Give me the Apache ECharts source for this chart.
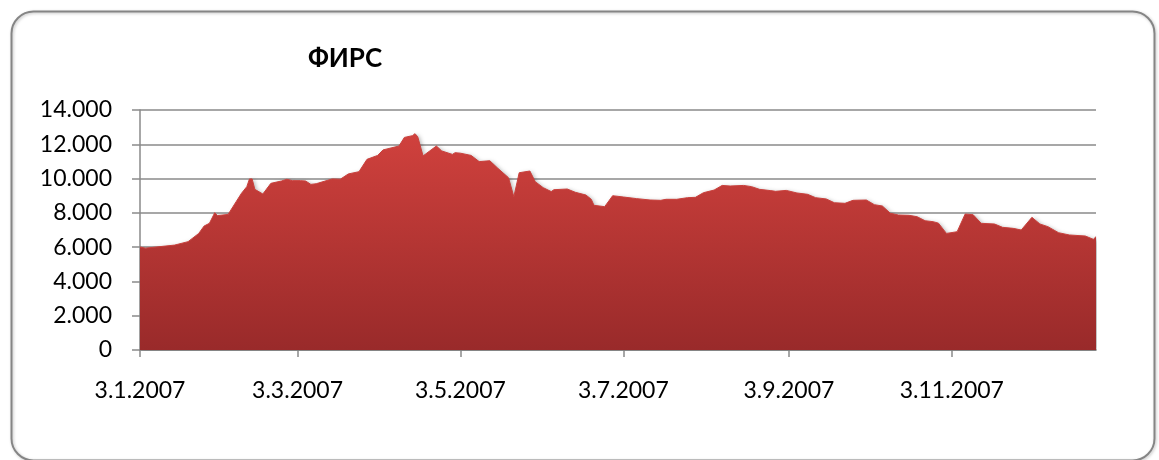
<!DOCTYPE html>
<html>
<head>
<meta charset="utf-8">
<title>ФИРС</title>
<script src="https://cdn.jsdelivr.net/npm/echarts@6/dist/echarts.min.js"></script>
<style>
  html, body { margin: 0; padding: 0; background: #fff; }
  #chart { width: 1159px; height: 460px; }
</style>
</head>
<body>
<div id="chart"></div>
<script>
// index values (date, value)
var dates = [
  '2007-01-03','2007-01-05','2007-01-16','2007-01-21','2007-01-25','2007-01-27','2007-01-29','2007-01-31',
  '2007-02-01','2007-02-05','2007-02-08','2007-02-10','2007-02-12','2007-02-13','2007-02-14','2007-02-15',
  '2007-02-18','2007-02-21','2007-02-25','2007-02-27','2007-03-01','2007-03-04','2007-03-06','2007-03-08',
  '2007-03-10','2007-03-13','2007-03-16','2007-03-19','2007-03-22','2007-03-26','2007-03-29','2007-04-02',
  '2007-04-04','2007-04-10','2007-04-12','2007-04-15','2007-04-16','2007-04-17','2007-04-19','2007-04-22',
  '2007-04-24','2007-04-26','2007-04-30','2007-05-01','2007-05-03','2007-05-07','2007-05-10','2007-05-14',
  '2007-05-17','2007-05-21','2007-05-23','2007-05-25','2007-05-29','2007-05-31','2007-06-03','2007-06-06',
  '2007-06-07','2007-06-12','2007-06-15','2007-06-19','2007-06-21','2007-06-22','2007-06-26','2007-06-29',
  '2007-07-03','2007-07-04','2007-07-08','2007-07-13','2007-07-17','2007-07-19','2007-07-23','2007-07-27',
  '2007-07-30','2007-08-02','2007-08-06','2007-08-09','2007-08-12','2007-08-17','2007-08-20','2007-08-23',
  '2007-08-27','2007-08-29','2007-09-02','2007-09-06','2007-09-10','2007-09-13','2007-09-17','2007-09-20',
  '2007-09-24','2007-09-27','2007-10-02','2007-10-05','2007-10-08','2007-10-11','2007-10-14','2007-10-18',
  '2007-10-21','2007-10-24','2007-10-27','2007-10-29','2007-11-01','2007-11-05','2007-11-08','2007-11-11',
  '2007-11-14','2007-11-19','2007-11-22','2007-11-26','2007-11-29','2007-12-03','2007-12-06','2007-12-09',
  '2007-12-13','2007-12-17','2007-12-23','2007-12-26','2007-12-27'
];
var values = [
  6010, 5940, 6120, 6320, 6800, 7230, 7390, 8010,
  7840, 7910, 8650, 9140, 9530, 9980, 9980, 9370,
  9100, 9720, 9860, 9960, 9880, 9880, 9860, 9660,
  9700, 9840, 9980, 9960, 10270, 10400, 11120, 11350,
  11670, 11900, 12400, 12500, 12620, 12440, 11320, 11670,
  11900, 11610, 11410, 11510, 11480, 11350, 10990, 11040,
  10600, 10050, 8940, 10340, 10440, 9820, 9470, 9240,
  9350, 9390, 9200, 9040, 8790, 8440, 8360, 9000,
  8925, 8905, 8830, 8750, 8730, 8790, 8790, 8885,
  8905, 9175, 9330, 9600, 9565, 9600, 9530, 9370,
  9300, 9255, 9310, 9160, 9080, 8885, 8810, 8590,
  8555, 8730, 8750, 8475, 8400, 7975, 7875, 7855,
  7775, 7540, 7485, 7400, 6800, 6900, 7930, 7890,
  7390, 7350, 7155, 7095, 7000, 7740, 7350, 7195,
  6840, 6710, 6650, 6455, 6610
];
var tickDates = ['2007-01-03','2007-03-03','2007-05-03','2007-07-03','2007-09-03','2007-11-03'];
var yTicks = [0, 2000, 4000, 6000, 8000, 10000, 12000, 14000];

function ts(s) {
  var p = s.split('-');
  return new Date(+p[0], +p[1] - 1, +p[2]).getTime();
}
function dotThousands(v) {
  return String(v).replace(/\B(?=(\d{3})+(?!\d))/g, '.');
}

var seriesData = dates.map(function (d, i) { return [ts(d), values[i]]; });
var tickTs = tickDates.map(ts);

var chart = echarts.init(document.getElementById('chart'));
var gridColor = '#8a8a8a';
var font = 'Lato, "Noto Sans", sans-serif';

var option = {
  animation: false,
  graphic: [{
    type: 'rect',
    left: 9, top: 9,
    shape: { width: 1143, height: 449, r: 22 },
    style: { fill: 'none', stroke: '#858585', lineWidth: 2,
             shadowColor: 'rgba(0,0,0,0.25)', shadowBlur: 3, shadowOffsetX: 1, shadowOffsetY: 1 },
    z: 0
  }],
  title: {
    text: 'ФИРС',
    left: 340,
    top: 41,
    textAlign: 'center',
    textStyle: { fontFamily: font, fontWeight: 'bold', fontSize: 26, color: '#000' }
  },
  grid: { left: 140, right: 63, top: 110, bottom: 110 },
  xAxis: {
    type: 'value',
    min: ts(dates[0]),
    max: ts(dates[dates.length - 1]),
    axisLine: { show: true, lineStyle: { color: gridColor, width: 1.5 } },
    axisTick: { show: true, length: 7, customValues: tickTs, lineStyle: { color: gridColor, width: 1.5 } },
    splitLine: { show: false },
    axisLabel: {
      customValues: tickTs,
      margin: 29,
      fontFamily: font,
      fontSize: 23,
      color: '#000',
      formatter: function (v) {
        var d = new Date(v);
        return d.getDate() + '.' + (d.getMonth() + 1) + '.' + d.getFullYear();
      }
    }
  },
  yAxis: {
    type: 'value',
    min: yTicks[0],
    max: yTicks[yTicks.length - 1],
    interval: 2000,
    axisLine: { show: true, lineStyle: { color: gridColor, width: 1.5 } },
    axisTick: { show: true, length: 8, lineStyle: { color: gridColor, width: 1.5 } },
    splitLine: { show: true, lineStyle: { color: gridColor, width: 1.5 } },
    axisLabel: {
      margin: 28,
      fontFamily: font,
      fontSize: 23,
      color: '#000',
      formatter: dotThousands
    }
  },
  series: [{
    name: 'ФИРС',
    type: 'line',
    data: seriesData,
    symbol: 'none',
    smooth: false,
    lineStyle: { width: 1, color: '#c9403c' },
    areaStyle: {
      opacity: 1,
      color: new echarts.graphic.LinearGradient(0, 0, 0, 1, [
        { offset: 0, color: '#d0413d' },
        { offset: 1, color: '#992a2a' }
      ]),
      shadowColor: 'rgba(0,0,0,0.3)',
      shadowBlur: 4,
      shadowOffsetX: 2,
      shadowOffsetY: 1
    }
  }]
};

chart.setOption(option);
</script>
</body>
</html>
